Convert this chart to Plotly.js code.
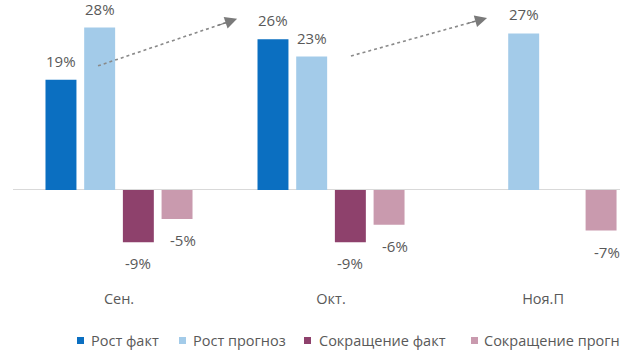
<!DOCTYPE html>
<html>
<head>
<meta charset="utf-8">
<script src="https://cdn.plot.ly/plotly-3.0.1.min.js"></script>
<style>html,body{margin:0;padding:0;background:#fff;overflow:hidden}#chart{width:620px;height:364px}</style>
</head>
<body>
<div id="chart"></div>
<script>
var categories = ['Сен.', 'Окт.', 'Ноя.П'];
var seriesNames = ['Рост факт', 'Рост прогноз', 'Сокращение факт', 'Сокращение прогноз'];
var growthFact = [19, 26, null];
var growthForecast = [28, 23, 27];
var cutFact = [-9, -9, null];
var cutForecast = [-5, -6, -7];
var colors = ['#0b6fc1', '#a3cbe9', '#8e416c', '#c99aae'];

var allSeries = [growthFact, growthForecast, cutFact, cutForecast];
var FONT = '"Open Sans", "DejaVu Sans", sans-serif';
var TXT = '#595959';

// layout geometry (styling)
var W = 620, H = 364, mL = 13, mR = 0, mT = 10, mB = 79;
var yRange = [-16.38, 31.03];
var xRange = [-0.5, 2.363];
var bargap = 0.27, bargroupgap = 0.2;
var ppu = (H - mT - mB) / (yRange[1] - yRange[0]);
var slot = (1 - bargap) / allSeries.length;

var traces = allSeries.map(function (vals, i) {
  return {
    type: 'bar',
    name: seriesNames[i],
    x: categories,
    y: vals,
    marker: {color: colors[i]},
    hoverinfo: 'x+y+name'
  };
});

var annotations = [];
allSeries.forEach(function (vals, i) {
  var off = -(1 - bargap) / 2 + slot * (i + 0.5);
  vals.forEach(function (v, j) {
    if (v === null) return;
    var ys;
    if (v >= 0) {
      var room = (yRange[1] - v) * ppu + 8.5;
      ys = Math.min(19, room);
    } else {
      ys = -21;
    }
    annotations.push({
      x: j + off, y: v, xref: 'x', yref: 'y',
      text: v + '%', showarrow: false,
      xanchor: 'center', yanchor: 'middle',
      yshift: ys, xshift: (i === 3 ? 6 : 0),
      font: {family: FONT, size: 15, color: TXT}
    });
  });
});

// trend arrows (decoration): dotted shaft + arrowhead
var arrows = [
  {x0: -0.099, y0: 21.4, x1: 0.557, y1: 29.5},
  {x0: 1.094, y0: 23.1, x1: 1.736, y1: 29.66}
];
var shapes = [];
arrows.forEach(function (a) {
  shapes.push({
    type: 'line', xref: 'x', yref: 'y',
    x0: a.x0, y0: a.y0, x1: a.x0 + (a.x1 - a.x0) * 0.95, y1: a.y0 + (a.y1 - a.y0) * 0.95,
    line: {color: '#8a8a8a', width: 1.6, dash: 'dot'}
  });
  annotations.push({
    x: a.x1, y: a.y1,
    ax: a.x0 + (a.x1 - a.x0) * 0.85, ay: a.y0 + (a.y1 - a.y0) * 0.85,
    xref: 'x', yref: 'y', axref: 'x', ayref: 'y',
    text: '', showarrow: true, arrowhead: 2, arrowsize: 2.2,
    arrowwidth: 1.1, arrowcolor: '#7a7a7a', standoff: 0
  });
});

// legend (custom, clipped at right edge like the reference)
var legendSquaresPx = [77, 179, 304, 471];
var legendTextPx = [89, 191, 317, 482];
function px2paperX(px) { return (px - mL) / (W - mL - mR); }
function px2paperY(py) { return (H - mB - py) / (H - mT - mB); }
seriesNames.forEach(function (n, i) {
  shapes.push({
    type: 'rect', xref: 'paper', yref: 'paper',
    x0: px2paperX(legendSquaresPx[i]), x1: px2paperX(legendSquaresPx[i] + 7),
    y0: px2paperY(344), y1: px2paperY(337),
    fillcolor: colors[i], line: {width: 0}
  });
  annotations.push({
    x: px2paperX(legendTextPx[i]), y: px2paperY(340.5),
    xref: 'paper', yref: 'paper', xanchor: 'left', yanchor: 'middle',
    text: n, showarrow: false,
    font: {family: FONT, size: 14.5, color: TXT}
  });
});

var layout = {
  width: W, height: H,
  margin: {l: mL, r: mR, t: mT, b: mB, pad: 0},
  paper_bgcolor: '#ffffff', plot_bgcolor: '#ffffff',
  barmode: 'group', bargap: bargap, bargroupgap: bargroupgap,
  showlegend: false,
  font: {family: FONT, color: TXT},
  xaxis: {
    type: 'category', range: xRange, showgrid: false, zeroline: false,
    showline: false, ticks: '', fixedrange: true, ticklabelstandoff: 3,
    tickfont: {family: FONT, size: 14.5, color: TXT}
  },
  yaxis: {
    range: yRange, showgrid: false, showticklabels: false, ticks: '',
    zeroline: true, zerolinecolor: '#d9d9d9', zerolinewidth: 1,
    showline: false, fixedrange: true
  },
  annotations: annotations,
  shapes: shapes
};

Plotly.newPlot('chart', traces, layout, {displayModeBar: false, staticPlot: true});
</script>
</body>
</html>
